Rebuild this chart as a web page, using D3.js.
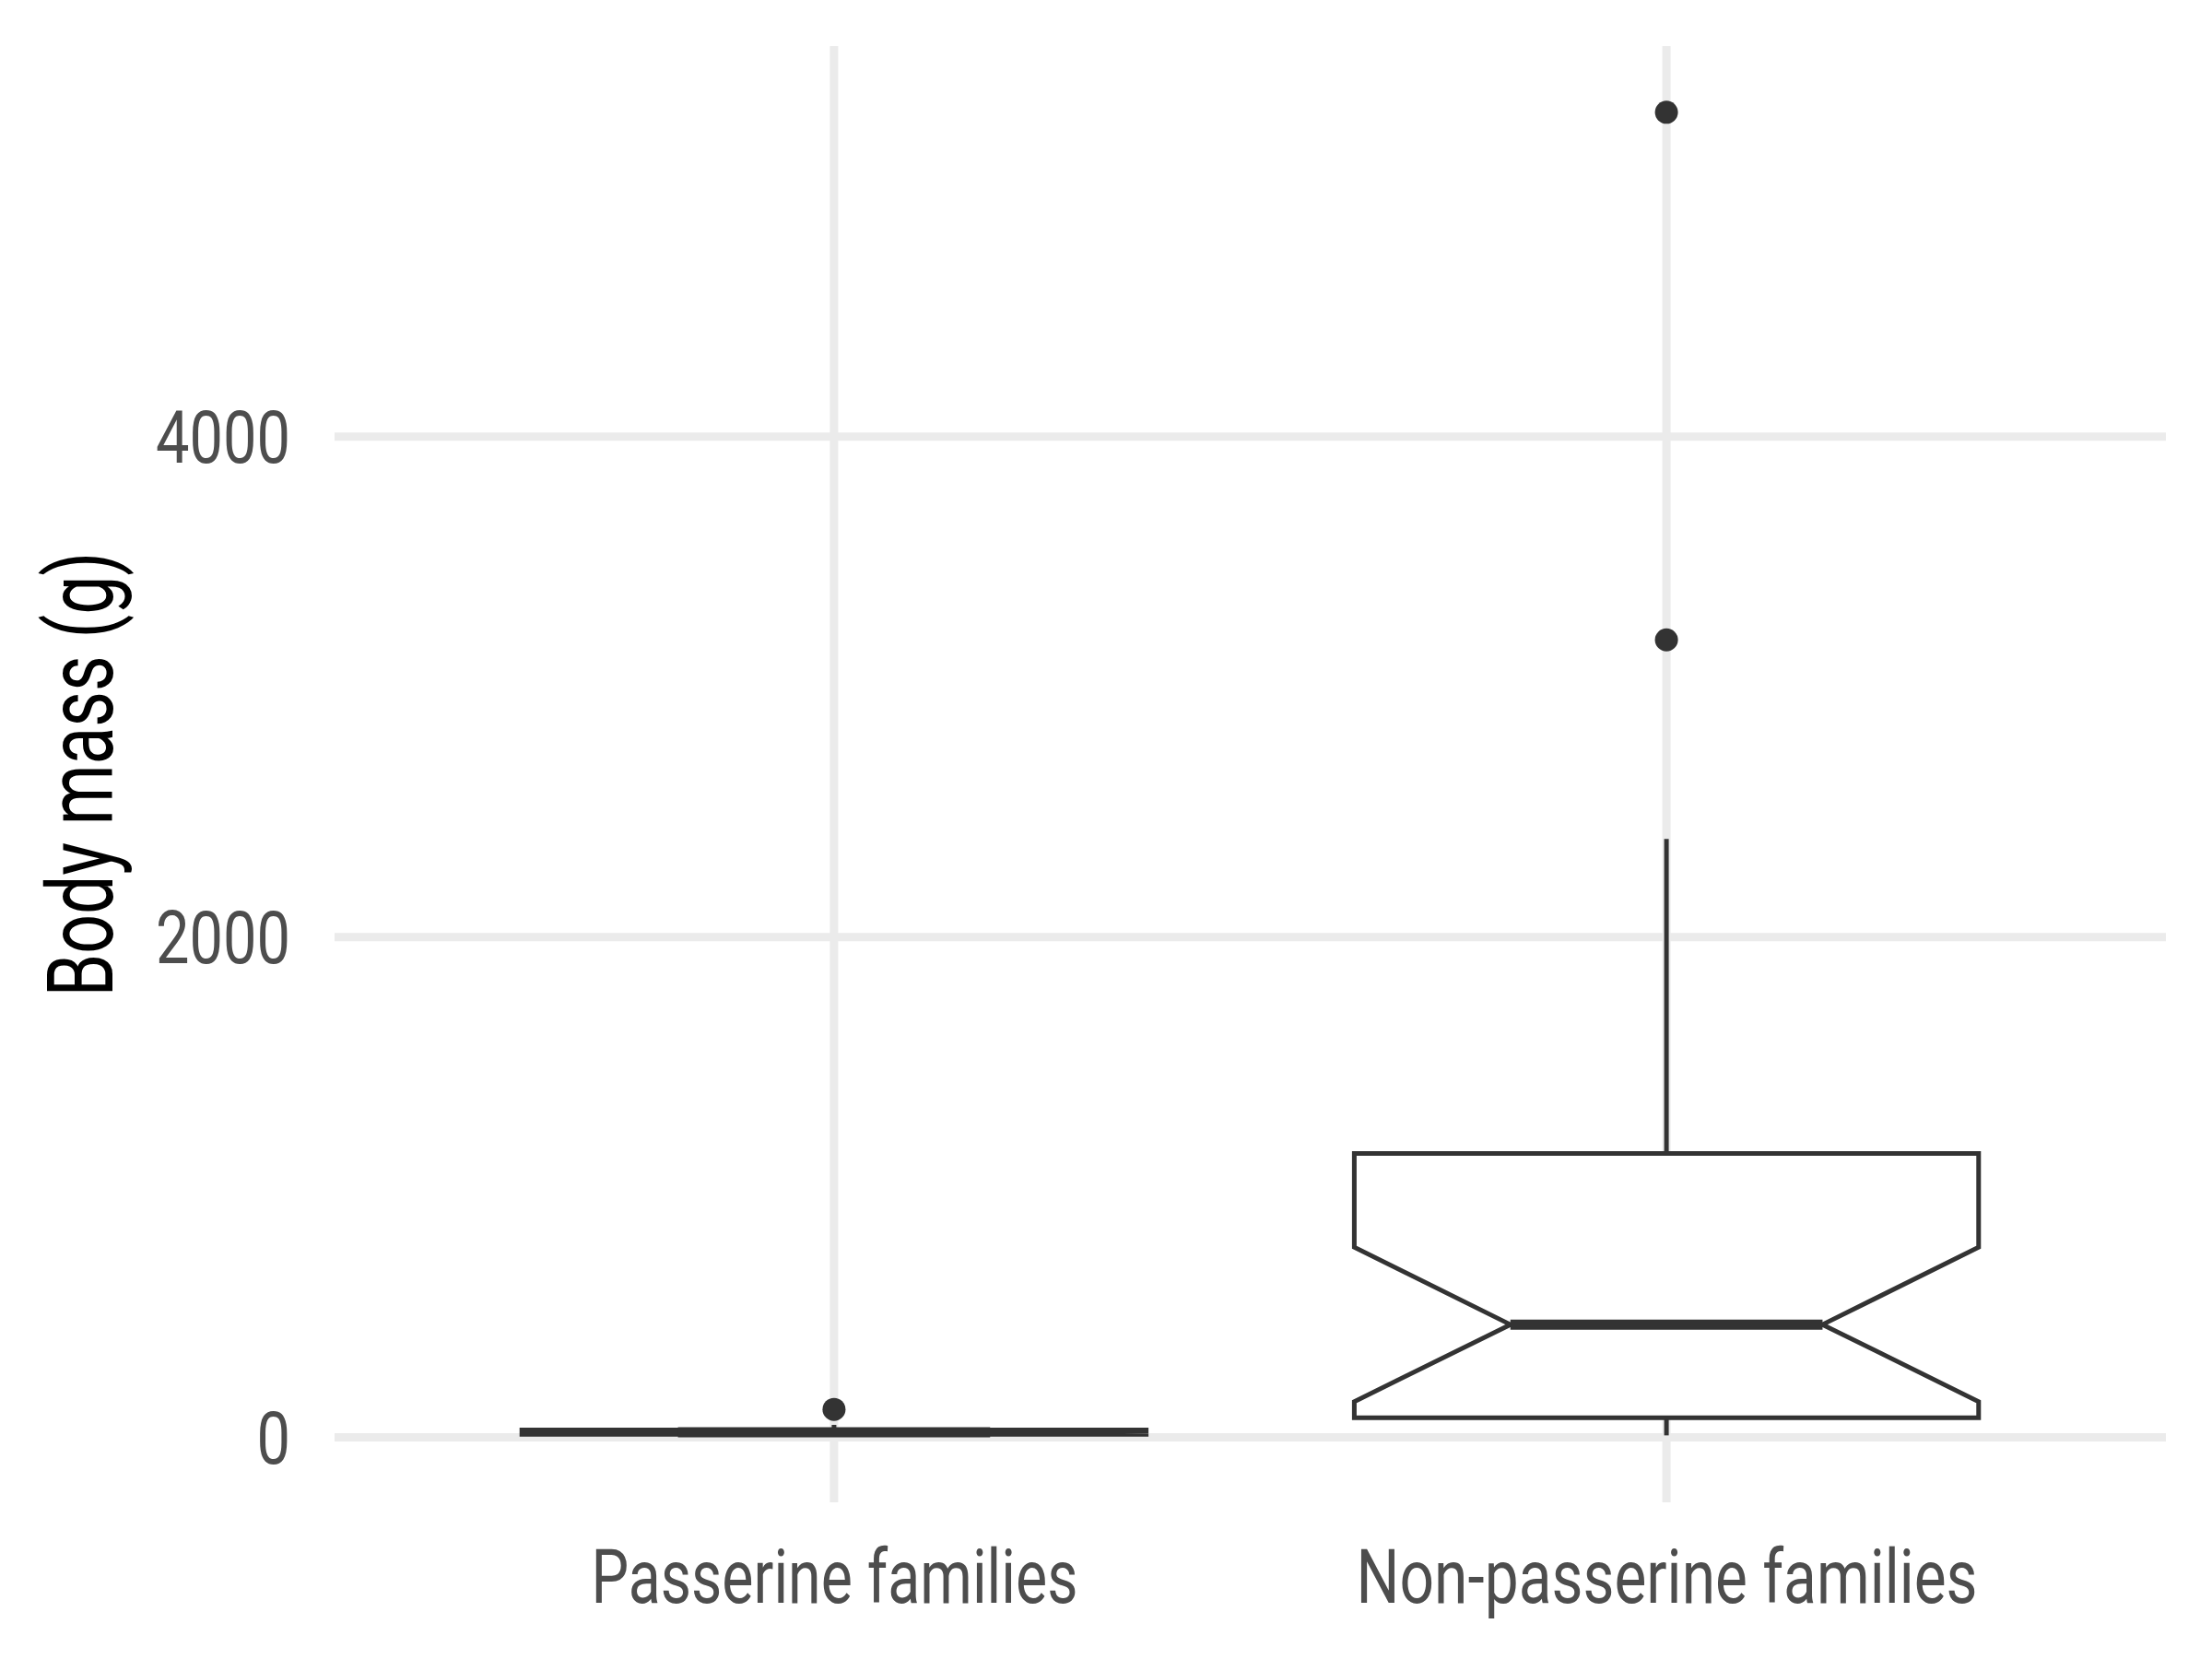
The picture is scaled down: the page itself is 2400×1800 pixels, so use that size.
<!DOCTYPE html>
<html><head><meta charset="utf-8">
<script src="https://cdn.jsdelivr.net/npm/d3@7"></script>
<style>body{margin:0;background:#fff;} svg{display:block;}</style>
</head><body>
<script>
const categories = ["Passerine families", "Non-passerine families"];
const lowerWhisker = [5, 8];
const q1 = [12, 78];
const median = [20, 451];
const q3 = [30, 1135];
const upperWhisker = [50, 2392];
const notchLower = [14, 143];
const notchUpper = [26, 760];
const outliers = [[112], [3188, 5297]];
const yTicks = [0, 2000, 4000];
const yTickLabels = ["0", "2000", "4000"];
const yTitle = "Body mass (g)";

const W = 2400, H = 1800;
const panel = {left: 363, right: 2350, top: 50, bottom: 1630};
const svg = d3.select("body").append("svg").attr("width", W).attr("height", H);
svg.append("rect").attr("width", W).attr("height", H).attr("fill", "#fff");

const allVals = [].concat(lowerWhisker, upperWhisker, ...outliers);
const dmin = d3.min(allVals), dmax = d3.max(allVals), ext = (dmax - dmin) * 0.05;
const y = d3.scaleLinear().domain([dmin - ext, dmax + ext]).range([panel.bottom, panel.top]);
const x = d3.scalePoint().domain(categories).range([panel.left, panel.right]).padding(0.6);
const bw = x.step() * 0.75;
const grid = "#EBEBEB", ink = "#333333";
const font = "Roboto, 'Liberation Sans', sans-serif";

// grid
svg.append("g").selectAll("line").data(yTicks).join("line")
  .attr("x1", panel.left).attr("x2", panel.right)
  .attr("y1", d => y(d)).attr("y2", d => y(d))
  .attr("stroke", grid).attr("stroke-width", 9);
svg.append("g").selectAll("line").data(categories).join("line")
  .attr("x1", d => x(d)).attr("x2", d => x(d))
  .attr("y1", panel.top).attr("y2", panel.bottom)
  .attr("stroke", grid).attr("stroke-width", 9);

// y axis labels
const yAxis = d3.axisLeft(y).tickValues(yTicks).tickFormat((d, i) => yTickLabels[i]).tickSize(0).tickPadding(48);
const ga = svg.append("g").attr("transform", `translate(${panel.left},0)`).call(yAxis);
ga.select(".domain").remove();
ga.selectAll("text").attr("font-family", font).attr("font-size", 79).attr("fill", "#4D4D4D")
  .attr("dy", "0.355em")
  .attr("textLength", (d, i) => yTickLabels[i].length * 36.5).attr("lengthAdjust", "spacingAndGlyphs");

// x axis labels
const xAxis = d3.axisBottom(x).tickSize(0).tickPadding(0);
const gx = svg.append("g").attr("transform", `translate(0,1739)`).call(xAxis);
gx.select(".domain").remove();
gx.selectAll("text").attr("font-family", font).attr("font-size", 81).attr("fill", "#4D4D4D")
  .attr("dy", 0).attr("y", 0)
  .attr("textLength", d => d === categories[0] ? 528 : 674).attr("lengthAdjust", "spacingAndGlyphs");

// y title
svg.append("text").attr("transform", `translate(122,${(panel.top + panel.bottom) / 2}) rotate(-90)`)
  .attr("text-anchor", "middle").attr("font-family", font).attr("font-size", 101).attr("fill", "#000")
  .attr("textLength", 483).attr("lengthAdjust", "spacingAndGlyphs").text(yTitle);

// boxes
const boxes = categories.map((c, i) => ({c, i}));
const g = svg.append("g");
boxes.forEach(({c, i}) => {
  const cx = x(c), x0 = cx - bw / 2, x1 = cx + bw / 2, inset = bw * 0.25;
  g.append("line").attr("x1", cx).attr("x2", cx).attr("y1", y(q3[i])).attr("y2", y(upperWhisker[i]))
    .attr("stroke", ink).attr("stroke-width", 5);
  g.append("line").attr("x1", cx).attr("x2", cx).attr("y1", y(q1[i])).attr("y2", y(lowerWhisker[i]))
    .attr("stroke", ink).attr("stroke-width", 5);
  const pts = [[x0, y(q3[i])], [x0, y(notchUpper[i])], [x0 + inset, y(median[i])], [x0, y(notchLower[i])],
    [x0, y(q1[i])], [x1, y(q1[i])], [x1, y(notchLower[i])], [x1 - inset, y(median[i])],
    [x1, y(notchUpper[i])], [x1, y(q3[i])]];
  g.append("path").attr("d", d3.line()(pts) + "Z").attr("fill", "#fff").attr("stroke", ink)
    .attr("stroke-width", 5).attr("stroke-linejoin", "miter");
  g.append("line").attr("x1", x0 + inset).attr("x2", x1 - inset).attr("y1", y(median[i])).attr("y2", y(median[i]))
    .attr("stroke", ink).attr("stroke-width", 11);
  g.selectAll(null).data(outliers[i]).join("circle")
    .attr("cx", cx).attr("cy", d => y(d)).attr("r", 12.5).attr("fill", ink);
});
</script>
</body></html>
